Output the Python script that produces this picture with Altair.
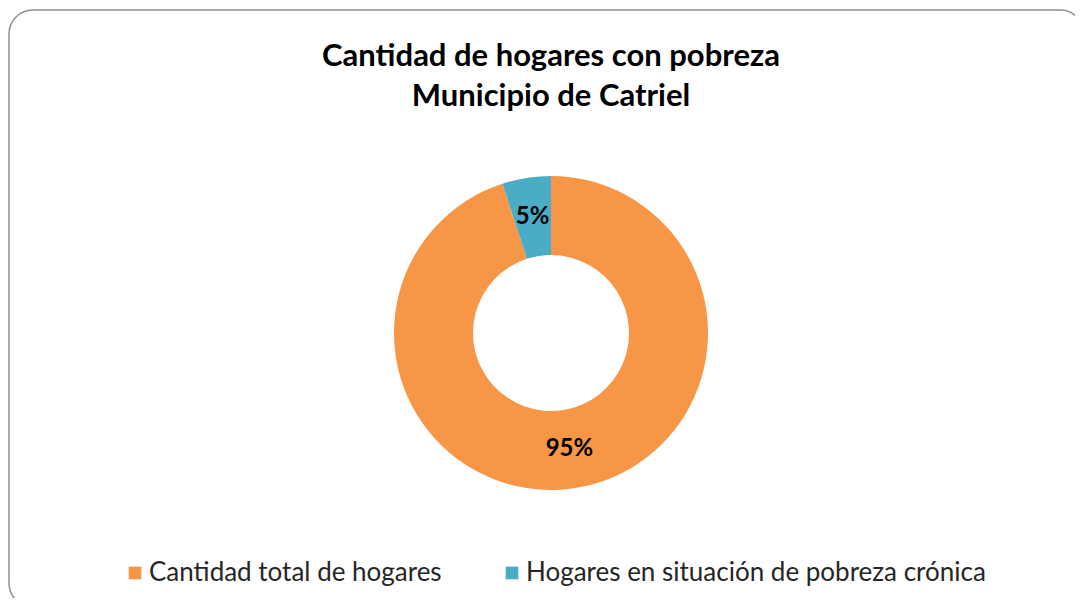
import altair as alt
import pandas as pd

title_lines = ["Cantidad de hogares con pobreza", "Municipio de Catriel"]
categories = ["Cantidad total de hogares", "Hogares en situación de pobreza crónica"]
values = [95, 5]
pct_labels = ["95%", "5%"]
colors = ["#F79646", "#4BACC6"]

df = pd.DataFrame({"cat": categories, "value": values, "label": pct_labels, "order": [0, 1]})

CX, CY = 543, 325
FONT = "Lato"

base = alt.Chart(df)

border = alt.Chart(pd.DataFrame({"k": [0]})).mark_rect(
    fill="white", stroke="#8f8f8f", strokeWidth=1.5, cornerRadius=24
).encode(x=alt.value(1), x2=alt.value(1076), y=alt.value(2), y2=alt.value(599))

arcs = base.mark_arc(radius=157, radius2=78, stroke=None).encode(
    theta=alt.Theta("value:Q", stack=True),
    order=alt.Order("order:Q"),
    color=alt.Color(
        "cat:N",
        scale=alt.Scale(domain=categories, range=colors),
        sort=categories,
        legend=alt.Legend(
            title=None,
            orient="none",
            legendX=114,
            legendY=552,
            direction="horizontal",
            symbolType="square",
            symbolSize=160,
            symbolStrokeWidth=0,
            labelFont=FONT,
            labelFontSize=26,
            labelColor="#262626",
            labelOffset=1,
            columnPadding=57,
            labelLimit=700,
        ),
    ),
    x=alt.value(CX),
    y=alt.value(CY),
)

texts = base.mark_text(
    radius=117.5, font=FONT, fontSize=24, fontWeight="bold", color="#000000",
    align="center", baseline="middle"
).encode(
    theta=alt.Theta("value:Q", stack=True),
    order=alt.Order("order:Q"),
    text=alt.Text("label:N"),
    x=alt.value(CX),
    y=alt.value(CY),
)

t1 = alt.Chart(pd.DataFrame({"t": [title_lines[0]]})).mark_text(
    font=FONT, fontSize=31, fontWeight="bold", color="#000000", align="center", baseline="middle"
).encode(text="t:N", x=alt.value(CX), y=alt.value(49))

t2 = alt.Chart(pd.DataFrame({"t": [title_lines[1]]})).mark_text(
    font=FONT, fontSize=31, fontWeight="bold", color="#000000", align="center", baseline="middle"
).encode(text="t:N", x=alt.value(CX), y=alt.value(89))

chart = alt.layer(border, arcs, texts, t1, t2).properties(
    width=1067, height=590, padding=0, autosize=alt.AutoSizeParams(type="none"),
    background="white",
).configure_view(stroke=None)

chart.save("out.html", embed_options={"renderer": "svg", "actions": False})
